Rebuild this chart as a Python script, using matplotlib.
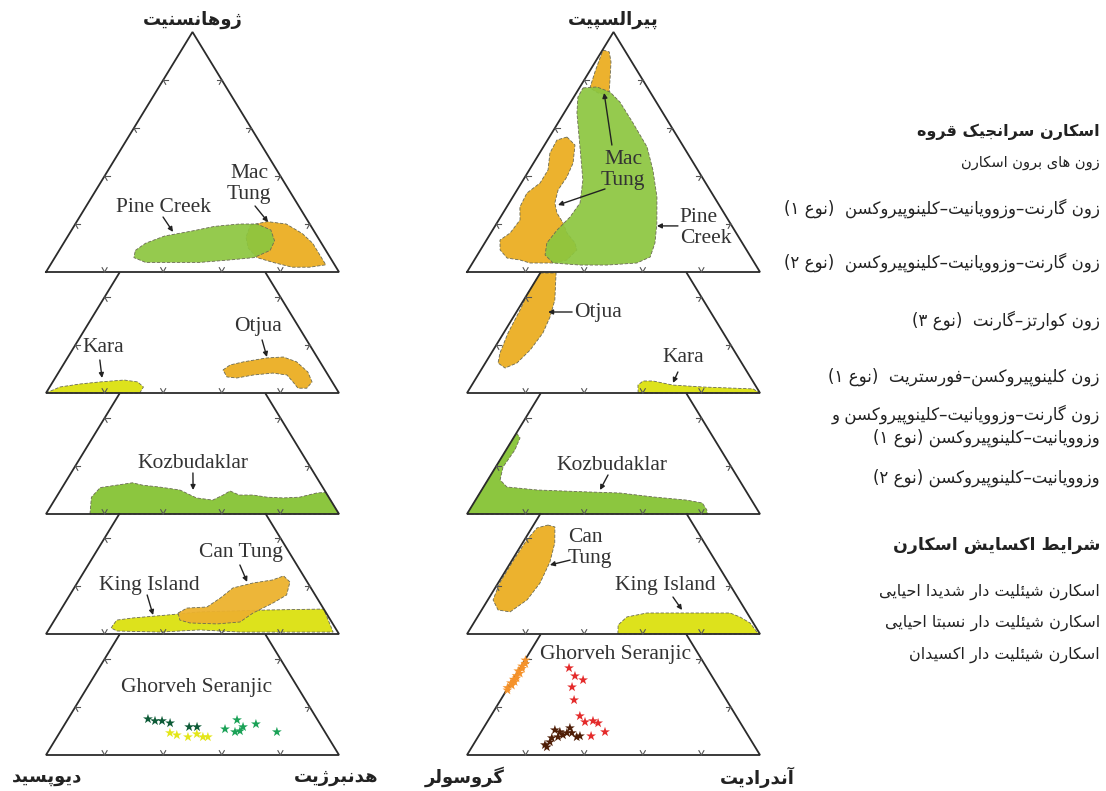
import numpy as np
import matplotlib.pyplot as plt
from matplotlib.patches import Polygon

plt.rcParams['font.family'] = ['DejaVu Sans']

# ---------- Persian text: simple shaping + right-to-left order ----------
R_JOIN = {0x0627: (0xFE8D, 0xFE8E), 0x0622: (0xFE81, 0xFE82), 0x062F: (0xFEA9, 0xFEAA),
          0x0630: (0xFEAB, 0xFEAC), 0x0631: (0xFEAD, 0xFEAE), 0x0632: (0xFEAF, 0xFEB0),
          0x0698: (0xFB8A, 0xFB8B), 0x0648: (0xFEED, 0xFEEE)}
D_JOIN = {0x0628: 0xFE8F, 0x062A: 0xFE95, 0x062B: 0xFE99, 0x062C: 0xFE9D, 0x062D: 0xFEA1,
          0x062E: 0xFEA5, 0x0633: 0xFEB1, 0x0634: 0xFEB5, 0x0635: 0xFEB9, 0x0636: 0xFEBD,
          0x0637: 0xFEC1, 0x0638: 0xFEC5, 0x0639: 0xFEC9, 0x063A: 0xFECD, 0x0641: 0xFED1,
          0x0642: 0xFED5, 0x0644: 0xFEDD, 0x0645: 0xFEE1, 0x0646: 0xFEE5, 0x0647: 0xFEE9,
          0x064A: 0xFEF1, 0x0626: 0xFE89, 0x067E: 0xFB56, 0x0686: 0xFB7A, 0x06A9: 0xFB8E,
          0x06AF: 0xFB92, 0x06CC: 0xFBFC}
MIRROR = {'(': ')', ')': '('}


def fa_line(s):
    out = []
    for i, ch in enumerate(s):
        c = ord(ch)
        prev = ord(s[i - 1]) if i > 0 else 0
        nxt = ord(s[i + 1]) if i + 1 < len(s) else 0
        join_prev = prev in D_JOIN and (c in D_JOIN or c in R_JOIN)
        if c in R_JOIN:
            out.append(chr(R_JOIN[c][1 if join_prev else 0]))
        elif c in D_JOIN:
            join_next = nxt in D_JOIN or nxt in R_JOIN
            base = D_JOIN[c]
            if join_prev and join_next:
                out.append(chr(base + 3))
            elif join_prev:
                out.append(chr(base + 1))
            elif join_next:
                out.append(chr(base + 2))
            else:
                out.append(chr(base))
        else:
            out.append(MIRROR.get(ch, ch))
    return ''.join(reversed(out))


def fa(s):
    return '\n'.join(fa_line(l) for l in s.split('\n'))


# ---------- data (ternary %, apex component, right-vertex component) ----------
# left diagram: Johannsenite (apex) - Diopside (left) - Hedenbergite (right)
PC_L = [(9, 26), (12, 28), (15, 33), (17, 41), (19, 48), (20, 56), (20, 62), (17.5, 68), (13, 71.5),
        (9, 72), (6, 68), (5, 60), (4, 50.5), (4, 40), (4, 32), (6, 27)]
MT_L = [(19.5, 60), (21, 65), (20, 72), (16, 79.5), (12, 85), (6, 91), (3, 94), (2, 89), (2, 83),
        (4, 75.5), (6, 69), (10, 64), (14.5, 61)]
KARA_L = [(0, 0), (2.5, 3.5), (3.75, 9.7), (4.6, 16), (5.4, 24), (4.6, 29), (2.5, 32), (0, 32)]
OTJ_L = [(9.6, 55.6), (11.7, 57), (13, 61), (14.6, 68), (15, 73.5), (13, 79), (8.75, 85), (4.6, 88.5),
         (2, 88), (2, 85), (4.6, 82), (7.5, 78.5), (8.3, 73.3), (7.5, 67), (6.25, 62), (6.7, 58.4)]
KOZ_L = [(0, 15), (7, 12), (11, 13), (12, 18), (13, 23), (12, 27), (11.25, 33), (10, 40.7), (6.7, 48),
         (5.8, 54), (7.9, 56.5), (9.6, 58), (7.9, 62), (7.9, 66.7), (7, 72), (6.7, 77.6), (7, 83),
         (8.75, 88), (9, 91), (0, 100)]
KI_L = [(2.5, 21), (3.75, 21), (5.8, 21.3), (6.7, 26.4), (7.9, 37.4), (9.2, 48), (10, 70.4),
        (10.4, 89.6), (0.8, 97.6), (0.8, 66), (1.7, 51.7), (0.8, 38.5), (1.25, 23.6)]
CT_L = [(8.75, 40.7), (10.8, 42.7), (11.25, 49.3), (15, 52), (19.2, 54.2), (21.25, 60), (22.5, 66),
        (24.2, 69), (21.7, 72.4), (16.25, 74), (12.9, 71), (8.75, 66.3), (5, 63.7), (4.2, 56.3),
        (4.6, 46.8), (5.8, 42.8)]
GS_DKGREEN = [(15, 27.3), (14.2, 30.1), (14.2, 32.5), (13.3, 35.7), (11.7, 43), (11.7, 45.7)]
GS_YELLOW = [(9.2, 37.7), (8.3, 40.5), (7.5, 44.7), (8.75, 47.1), (7.5, 49.8), (7.5, 51.5)]
GS_GREEN = [(10.8, 55.7), (14.6, 57.9), (9.6, 59.7), (10, 61.2), (11.7, 61.4), (12.9, 65.2), (9.6, 74)]

# right diagram: Pyralspite (apex) - Grossular (left) - Andradite (right)
MT_R_TIP = [(92.5, 0.2), (91.7, 2.7), (87.5, 5.4), (80, 8.8), (73.75, 11.6), (74.6, 7.4), (76.7, 3.6),
            (83.3, 2), (89.2, 0.8)]
MT_R = [(56.25, 6), (52.9, 10.4), (45.4, 13.5), (39.6, 14.3), (34.2, 14), (28.75, 15.6), (24.6, 18.4),
        (20.4, 22.6), (16.25, 26), (12.1, 30.8), (9.2, 32.9), (5, 31.6), (3.75, 27.5), (3.75, 19.6),
        (5, 15.6), (5.8, 10.8), (9.2, 6.7), (13.3, 4.6), (16.25, 6.6), (21.7, 7.25), (27.1, 4.5),
        (32.9, 4), (37.1, 6.4), (42.5, 6.4), (49.6, 3.5), (55, 3.2)]
PC_R = [(76.7, 1.25), (77.1, 5.8), (75, 11.3), (70.8, 16.8), (62.1, 25.6), (52.1, 35.4), (42.5, 42.2),
        (31.25, 49.2), (20.4, 54.6), (12.1, 58.1), (6.25, 59.4), (3.75, 56.1), (2.9, 46.3), (2.9, 37.1),
        (3.75, 27.5), (7.1, 23.1), (12.1, 21.2), (17.5, 22), (22.9, 23.7), (28.75, 24.2), (38.3, 20.4),
        (52.1, 12.5), (66.25, 4.4), (72.9, 1.4)]
OTJ_R = [(50, 0), (50, 5.4), (38.75, 10.6), (31.7, 12.5), (25, 13.4), (17.9, 12.6), (12.5, 10.8),
         (10.4, 7.8), (12.5, 4.35), (16.7, 2.9), (25, 1.5), (34.6, 0.8), (41.7, 0)]
KARA_R = [(0, 58.4), (3.3, 56.7), (5, 57.6), (5, 61), (3.3, 68.6), (2.5, 79.3), (1.7, 96.8), (0, 100)]
KOZ_R = [(0, 0), (33.75, 0), (31.7, 2.25), (26.7, 3), (19.6, 2.5), (14.2, 4.2), (11.25, 8), (10, 19),
         (9.2, 36.4), (8.75, 47.8), (7.1, 60), (5.8, 72), (4.6, 78), (1.7, 81), (0, 82)]
CT_R = [(45.4, 4.9), (44.6, 7.7), (37.9, 11), (30, 13.3), (21.25, 14.3), (14.2, 13.4), (9.2, 10.1),
        (10, 5.6), (14.2, 1.8), (21.25, 0.5), (30.8, 0.5), (39.2, 0.8), (44.2, 1.8)]
KI_R = [(0, 51.5), (3.75, 49.7), (7.1, 51), (8.75, 57), (8.75, 70.7), (8.75, 85.4), (7.1, 89.6),
        (4.6, 94.3), (0.8, 98.6), (0, 100)]
GS_ORANGE = [(27, 0.3), (28, -0.2), (29, 0.8), (30, 0), (30.5, 1), (31.5, 0.2), (32, 0.9), (33, 0.4),
             (34, 1), (35, 0), (36, 0.8), (37, 0.3), (38, 0.9), (39.5, 0.2)]
GS_RED = [(36.25, 16.7), (32.9, 20.4), (31.25, 24), (28.3, 21.7), (22.9, 25.1), (16.25, 30.4),
          (13.75, 33.4), (14.2, 35.9), (13.3, 38.1), (7.9, 38.4), (9.6, 42.3)]
GS_BROWN = [(3.3, 25.6), (5.4, 25.6), (10.4, 24.8), (7.5, 27.3), (8.3, 28.6), (11.25, 29.5), (9.2, 31.2),
            (7.5, 33.7), (7.9, 34.6), (7.1, 25.4), (9.2, 29.5), (4.2, 24.5), (9.6, 26.9)]

# labels: (panel, section, text, label pos, arrow tail, arrow head, ha)
LABELS = [
    (0, 0, 'Pine Creek', (26.7, 26.6), (22.9, 28.5), (16.7, 35), 'center'),
    (0, 0, 'Mac\nTung', (36.7, 51), (27.5, 57.6), (20.8, 65.4), 'center'),
    (0, 1, 'Kara', (18.75, 10.1), (13.75, 11.5), (6.25, 16), 'center'),
    (0, 1, 'Otjua', (27.5, 58.6), (22.1, 62.7), (15, 67.9), 'center'),
    (0, 2, 'Kozbudaklar', (21.25, 39.5), (17.1, 41.6), (10, 45.2), 'center'),
    (0, 3, 'King Island', (20.4, 25), (16.25, 26.4), (7.9, 32.6), 'center'),
    (0, 3, 'Can Tung', (33.75, 49.7), (28.75, 51.8), (21.7, 57.8), 'center'),
    (0, 4, 'Ghorveh Seranjic', (28.3, 37.4), None, None, 'center'),
    (1, 0, 'Mac\nTung', (42.5, 32), (52.9, 23), (74.6, 9.5), 'center'),
    (1, 0, 'Pine\nCreek', (18.3, 63.5), (19.2, 62.4), (19.2, 55.2), 'left'),
    (1, 1, 'Otjua', (33.75, 27.8), (33.75, 19), (33.75, 10.8), 'center'),
    (1, 1, 'Kara', (14.6, 66.4), (8.75, 67.6), (4.2, 68.2), 'center'),
    (1, 2, 'Kozbudaklar', (20.4, 39.3), (16.25, 40), (10, 40.4), 'center'),
    (1, 3, 'Can\nTung', (35.8, 16.6), (30.8, 19.8), (28.75, 13.9), 'left'),
    (1, 3, 'King Island', (20.4, 57.4), (15.4, 62.6), (10, 68.4), 'center'),
    (1, 4, 'Ghorveh Seranjic', (41.7, 30), None, None, 'center'),
]
MAC_R_ARROW2 = ((34.6, 29.8), (27.9, 17.1))

VERTEX_LABELS = [('ژوهانسنیت', 'دیوپسید', 'هدنبرژیت'), ('پیرالسپیت', 'گروسولر', 'آندرادیت')]

LEGEND = [
    ('اسکارن سرانجیک قروه', 132, 11.5, 'bold'),
    ('زون های برون اسکارن', 163, 10.5, 'normal'),
    ('زون گارنت–وزوویانیت–کلینوپیروکسن  (نوع ۱)', 208, 12, 'normal'),
    ('زون گارنت–وزوویانیت–کلینوپیروکسن  (نوع ۲)', 262, 12, 'normal'),
    ('زون کوارتز–گارنت  (نوع ۳)', 320, 12, 'normal'),
    ('زون کلینوپیروکسن–فورستریت  (نوع ۱)', 377, 12, 'normal'),
    ('زون گارنت–وزوویانیت–کلینوپیروکسن و\nوزوویانیت–کلینوپیروکسن (نوع ۱)', 426, 12, 'normal'),
    ('وزوویانیت–کلینوپیروکسن (نوع ۲)', 478, 12, 'normal'),
    ('شرایط اکسایش اسکارن', 545, 12.5, 'bold'),
    ('اسکارن شیئلیت دار شدیدا احیایی', 592, 11.5, 'normal'),
    ('اسکارن شیئلیت دار نسبتا احیایی', 623, 11.5, 'normal'),
    ('اسکارن شیئلیت دار اکسیدان', 655, 11.5, 'normal'),
]

GREEN = '#8cc63f'
ORANGE = '#ecb22e'
YELLOW = '#dde21c'

# ---------- layout (pixels) ----------
PANEL_X0 = [46, 467]
BASE_W = 293
TRI_H = 240
SECTION_BASE = [272, 393, 514, 634, 755]


def tern(panel, sec, pts):
    p = np.asarray(pts, dtype=float) / 100.0
    a, r = p[:, 0], p[:, 1]
    x = PANEL_X0[panel] + BASE_W * (r + a / 2)
    y = SECTION_BASE[sec] - TRI_H * a
    return np.column_stack([x, y])


fig = plt.figure(figsize=(11.06, 7.91), dpi=100)
ax = fig.add_axes([0, 0, 1, 1])
ax.set_xlim(0, 1106)
ax.set_ylim(791, 0)
ax.axis('off')


def field(panel, sec, pts, color, z=2, alpha=1.0):
    xy = tern(panel, sec, pts)
    ax.add_patch(Polygon(xy, closed=True, facecolor=color, edgecolor='none', alpha=alpha, zorder=z,
                         joinstyle='round'))
    ax.add_patch(Polygon(xy, closed=True, facecolor='none', edgecolor='#6b6b55', lw=0.6,
                         ls=(0, (4, 2)), zorder=z + 0.5))


def chevron(x, y, d1, d2, L=5):
    for d in (d1, d2):
        ax.plot([x, x + L * d[0]], [y, y + L * d[1]], color='#555', lw=0.8, zorder=6)


# directions in pixel space (y down)
s3 = np.sqrt(3) / 2
UP_RIGHT = (0.5, -s3)
UP_LEFT = (-0.5, -s3)
RIGHT = (1, 0)
LEFT = (-1, 0)
DOWN_RIGHT = (0.5, s3)
DOWN_LEFT = (-0.5, s3)

for panel in (0, 1):
    for sec in range(5):
        if sec == 0:
            frame = tern(panel, sec, [(0, 0), (0, 100), (100, 0), (0, 0)])
            levels = [20, 40, 60, 80]
        else:
            frame = tern(panel, sec, [(50, 0), (0, 0), (0, 100), (50, 50)])
            levels = [20, 40]
        ax.plot(frame[:, 0], frame[:, 1], color='#2b2b2b', lw=1.3, zorder=5, solid_joinstyle='miter')
        for v in [20, 40, 60, 80]:
            x, y = tern(panel, sec, [(0, v)])[0]
            chevron(x, y, UP_LEFT, UP_RIGHT)
        for v in levels:
            x, y = tern(panel, sec, [(v, 0)])[0]
            chevron(x, y, RIGHT, DOWN_RIGHT)
            x, y = tern(panel, sec, [(v, 100 - v)])[0]
            chevron(x, y, LEFT, DOWN_LEFT)

# fields, left diagram
field(0, 0, MT_L, ORANGE, z=2)
field(0, 0, PC_L, GREEN, z=3, alpha=0.92)
field(0, 1, KARA_L, YELLOW)
field(0, 1, OTJ_L, ORANGE)
field(0, 2, KOZ_L, GREEN)
field(0, 3, KI_L, YELLOW, z=2)
field(0, 3, CT_L, ORANGE, z=3, alpha=0.95)
# fields, right diagram
field(1, 0, MT_R_TIP, ORANGE, z=2)
field(1, 0, MT_R, ORANGE, z=2)
field(1, 0, PC_R, GREEN, z=3, alpha=0.92)
field(1, 1, OTJ_R, ORANGE)
field(1, 1, KARA_R, YELLOW)
field(1, 2, KOZ_R, GREEN)
field(1, 3, CT_R, ORANGE)
field(1, 3, KI_R, YELLOW)

# Ghorveh Seranjic samples
for panel, pts, col in [(0, GS_DKGREEN, '#0d5b37'), (0, GS_YELLOW, '#e4e619'), (0, GS_GREEN, '#1ba257'),
                        (1, GS_ORANGE, '#f5922a'), (1, GS_RED, '#e42b2b'), (1, GS_BROWN, '#4f1e07')]:
    xy = tern(panel, 4, pts)
    ax.scatter(xy[:, 0], xy[:, 1], marker='*', s=55, color=col, edgecolors='none', zorder=7)

# field labels and arrows
arrow_kw = dict(arrowstyle='-|>', color='#222', lw=1.0, mutation_scale=7, shrinkA=0, shrinkB=0)
for panel, sec, txt, pos, tail, head, ha in LABELS:
    x, y = tern(panel, sec, [pos])[0]
    ax.text(x, y, txt, family='Liberation Serif', fontsize=15.5, color='#333', ha=ha, va='center',
            linespacing=1.15, zorder=8)
    if tail is not None:
        t = tern(panel, sec, [tail])[0]
        h = tern(panel, sec, [head])[0]
        ax.annotate('', xy=h, xytext=t, arrowprops=arrow_kw, zorder=8)
t = tern(1, 0, [MAC_R_ARROW2[0]])[0]
h = tern(1, 0, [MAC_R_ARROW2[1]])[0]
ax.annotate('', xy=h, xytext=t, arrowprops=arrow_kw, zorder=8)

# vertex labels
for panel, (top, left, right) in enumerate(VERTEX_LABELS):
    x, y = tern(panel, 0, [(100, 0)])[0]
    ax.text(x, y - 12, fa(top), fontsize=13, fontweight='bold', color='#222', ha='center', va='center')
    x, y = tern(panel, 4, [(0, 0)])[0]
    ax.text(x + (1 if panel == 0 else -2), y + 22, fa(left), fontsize=13, fontweight='bold',
            color='#222', ha='center', va='center')
    x, y = tern(panel, 4, [(0, 100)])[0]
    ax.text(x - 3, y + 22, fa(right), fontsize=13, fontweight='bold', color='#222', ha='center',
            va='center')

# legend text (right-aligned, Persian)
for txt, y, size, weight in LEGEND:
    ax.text(1100, y, fa(txt), fontsize=size, fontweight=weight, color='#222', ha='right', va='center',
            multialignment='right', linespacing=1.3)

fig.savefig('out.png', dpi=100)
